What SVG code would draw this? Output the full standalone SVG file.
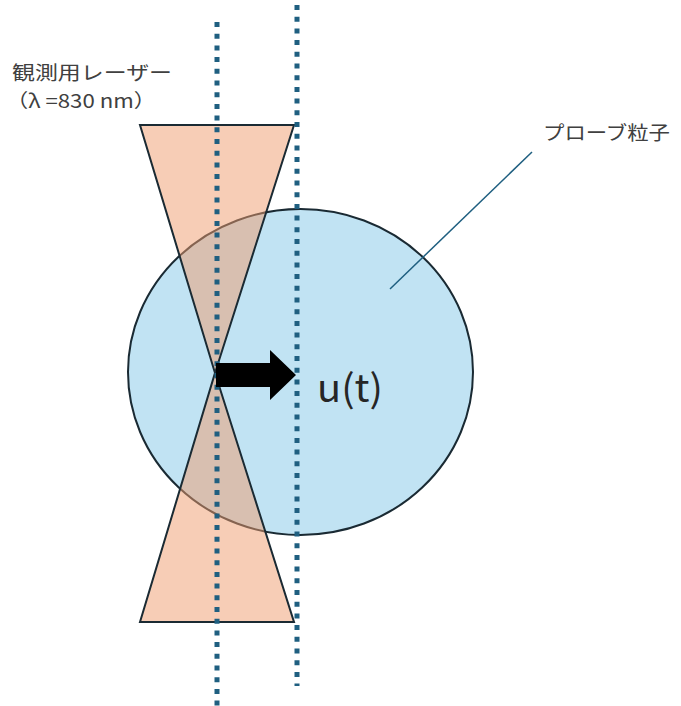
<svg xmlns="http://www.w3.org/2000/svg" width="681" height="706" viewBox="0 0 681 706">
<style>
.lbl{font-family:"Noto Sans CJK JP","Noto Sans",sans-serif;font-size:19px;fill:#404040}
.beam{fill:#ef9b6d;fill-opacity:0.5;stroke:#1a2a33;stroke-width:2;stroke-linejoin:miter}
.dot{stroke:#1f5f80;stroke-width:5;stroke-dasharray:5 6.7;fill:none}
</style>
<rect width="681" height="706" fill="#ffffff"/>
<g id="particle">
<ellipse cx="300.5" cy="372" rx="172.5" ry="163" fill="#c1e3f3" stroke="#1a2a33" stroke-width="2"/>
</g>
<g id="laser">
<polygon class="beam" points="140,125 294,125 215,373"/>
<polygon class="beam" points="215,373 294,622 140,622"/>
</g>
<g id="lines">
<line class="dot" x1="217" y1="22" x2="217" y2="706"/>
<line class="dot" x1="297" y1="5" x2="297" y2="686"/>
<line x1="532" y1="152" x2="390" y2="289" stroke="#1f5f80" stroke-width="1.5"/>
</g>
<g id="arrow">
<polygon points="216,363 270,363 270,350 296,375 270,400 270,387 216,387" fill="#000000"/>
</g>
<g id="labels">
<text class="lbl" x="12" y="80" textLength="160" lengthAdjust="spacingAndGlyphs">観測用レーザー</text>
<text class="lbl" x="6" y="108" textLength="150" lengthAdjust="spacingAndGlyphs">（λ =830 nm）</text>
<text class="lbl" x="543" y="140" textLength="127" lengthAdjust="spacingAndGlyphs">プローブ粒子</text>
<text x="317" y="402" font-family="'Noto Sans CJK JP','Noto Sans',sans-serif" font-size="38" fill="#262626" textLength="66" lengthAdjust="spacingAndGlyphs">u(t)</text>
</g>
</svg>
